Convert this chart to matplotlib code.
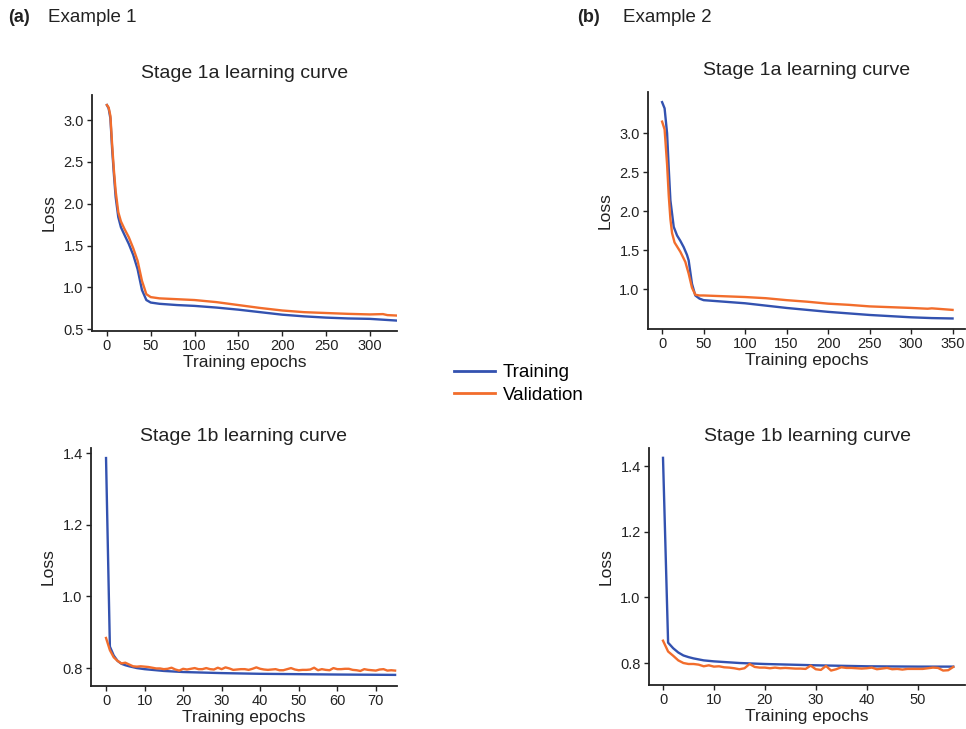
import matplotlib
matplotlib.use("Agg")
import matplotlib.pyplot as plt
from matplotlib.lines import Line2D

plt.rcParams['font.family'] = ['Liberation Sans', 'DejaVu Sans']

BLUE = '#3352b0'
ORANGE = '#f26d2c'

# (a) stage 1a
a1_train_ep = [0, 2, 4, 6, 8, 10, 13, 16, 20, 25, 30, 35, 40, 45, 50, 60, 80, 100, 125, 150, 175, 200, 225, 250, 275, 300, 330]
a1_train = [3.18, 3.14, 3.02, 2.65, 2.35, 2.08, 1.84, 1.72, 1.63, 1.52, 1.39, 1.22, 0.97, 0.85, 0.82, 0.805, 0.79, 0.78, 0.76, 0.735, 0.705, 0.675, 0.655, 0.64, 0.63, 0.625, 0.605]
a1_val_ep = [0, 2, 4, 6, 8, 10, 13, 16, 20, 25, 30, 35, 40, 45, 50, 60, 80, 100, 125, 150, 175, 200, 225, 250, 275, 300, 315, 320, 330]
a1_val = [3.18, 3.15, 3.05, 2.7, 2.4, 2.15, 1.9, 1.79, 1.7, 1.6, 1.47, 1.32, 1.08, 0.92, 0.885, 0.87, 0.86, 0.85, 0.825, 0.79, 0.755, 0.725, 0.705, 0.695, 0.685, 0.678, 0.682, 0.67, 0.665]

# (b) stage 1a
b1_train_ep = [0, 3, 6, 8, 10, 14, 18, 22, 26, 30, 32, 36, 40, 45, 50, 75, 100, 125, 150, 175, 200, 225, 250, 275, 300, 325, 350]
b1_train = [3.40, 3.32, 3.0, 2.55, 2.14, 1.80, 1.69, 1.62, 1.54, 1.44, 1.37, 1.07, 0.92, 0.88, 0.86, 0.84, 0.82, 0.79, 0.76, 0.735, 0.71, 0.69, 0.67, 0.655, 0.64, 0.63, 0.625]
b1_val_ep = [0, 3, 6, 8, 10, 12, 15, 22, 28, 32, 36, 40, 45, 50, 75, 100, 125, 150, 175, 200, 225, 250, 275, 300, 320, 325, 350]
b1_val = [3.15, 3.05, 2.6, 2.2, 1.9, 1.72, 1.60, 1.48, 1.35, 1.2, 1.02, 0.93, 0.92, 0.92, 0.91, 0.90, 0.885, 0.86, 0.84, 0.815, 0.80, 0.78, 0.77, 0.76, 0.75, 0.755, 0.735]

# (a) stage 1b
a2_train_ep = [0, 1, 2, 3, 4, 5, 6, 8, 10, 15, 20, 30, 40, 50, 60, 75]
a2_train = [1.386, 0.86, 0.835, 0.82, 0.812, 0.808, 0.805, 0.80, 0.797, 0.792, 0.789, 0.786, 0.784, 0.783, 0.782, 0.781]
a2_val = [0.884, 0.85, 0.83, 0.82, 0.813, 0.815, 0.81, 0.805, 0.804, 0.805, 0.804, 0.803, 0.801, 0.799, 0.799, 0.797,
          0.798, 0.801, 0.796, 0.793, 0.798, 0.796, 0.798, 0.800, 0.797, 0.797, 0.800, 0.797, 0.796, 0.801, 0.797,
          0.802, 0.799, 0.795, 0.796, 0.797, 0.797, 0.795, 0.798, 0.802, 0.798, 0.796, 0.795, 0.796, 0.797, 0.794,
          0.794, 0.797, 0.800, 0.796, 0.794, 0.795, 0.795, 0.796, 0.801, 0.794, 0.797, 0.795, 0.794, 0.800, 0.797,
          0.797, 0.798, 0.798, 0.795, 0.794, 0.792, 0.797, 0.795, 0.794, 0.793, 0.796, 0.797, 0.793, 0.794, 0.793]

# (b) stage 1b
b2_train_ep = [0, 1, 2, 3, 4, 5, 6, 7, 8, 10, 15, 20, 30, 40, 50, 57]
b2_train = [1.425, 0.862, 0.845, 0.832, 0.823, 0.818, 0.814, 0.811, 0.808, 0.805, 0.800, 0.797, 0.793, 0.790, 0.789, 0.789]
b2_val = [0.868, 0.835, 0.822, 0.808, 0.800, 0.797, 0.797, 0.795, 0.790, 0.793, 0.789, 0.790, 0.787, 0.786, 0.784,
          0.781, 0.784, 0.797, 0.788, 0.786, 0.786, 0.784, 0.786, 0.784, 0.785, 0.784, 0.783, 0.783, 0.782, 0.792,
          0.781, 0.779, 0.791, 0.777, 0.781, 0.787, 0.785, 0.785, 0.784, 0.783, 0.784, 0.786, 0.781, 0.783, 0.785,
          0.781, 0.782, 0.780, 0.782, 0.782, 0.782, 0.782, 0.784, 0.786, 0.785, 0.777, 0.778, 0.788]

W, H = 966, 729
fig = plt.figure(figsize=(W / 100, H / 100), dpi=100)


def box(x0, y0, x1, y1):
    return [x0 / W, 1 - y1 / H, (x1 - x0) / W, (y1 - y0) / H]


def style(ax, title, pad):
    for s in ['top', 'right']:
        ax.spines[s].set_visible(False)
    for s in ['left', 'bottom']:
        ax.spines[s].set_linewidth(1.3)
        ax.spines[s].set_color('#222222')
    ax.tick_params(labelsize=10.5, length=3.5, width=1.0, colors='#222222', pad=2.5)
    ax.set_title(title, fontsize=14, pad=pad, color='#222222')
    ax.set_xlabel('Training epochs', fontsize=12.5, labelpad=1.5, color='#222222')
    ax.set_ylabel('Loss', fontsize=12.5, labelpad=5, color='#222222')


ax1 = fig.add_axes(box(92, 95, 397, 331))
ax1.plot(a1_train_ep, a1_train, color=BLUE, lw=1.7)
ax1.plot(a1_val_ep, a1_val, color=ORANGE, lw=1.7)
ax1.set_xlim(-17, 331)
ax1.set_ylim(0.48, 3.3)
ax1.set_xticks(range(0, 301, 50))
ax1.set_yticks([0.5, 1.0, 1.5, 2.0, 2.5, 3.0])
style(ax1, 'Stage 1a learning curve', 12)

ax2 = fig.add_axes(box(648, 92, 965, 329))
ax2.plot(b1_train_ep, b1_train, color=BLUE, lw=1.7)
ax2.plot(b1_val_ep, b1_val, color=ORANGE, lw=1.7)
ax2.set_xlim(-17, 365)
ax2.set_ylim(0.49, 3.53)
ax2.set_xticks(range(0, 351, 50))
ax2.set_yticks([1.0, 1.5, 2.0, 2.5, 3.0])
style(ax2, 'Stage 1a learning curve', 12)

ax3 = fig.add_axes(box(91, 448, 397, 686))
ax3.plot(a2_train_ep, a2_train, color=BLUE, lw=1.7)
ax3.plot(range(len(a2_val)), a2_val, color=ORANGE, lw=1.7)
ax3.set_xlim(-3.9, 75.5)
ax3.set_ylim(0.75, 1.414)
ax3.set_xticks(range(0, 71, 10))
ax3.set_yticks([0.8, 1.0, 1.2, 1.4])
style(ax3, 'Stage 1b learning curve', 5)

ax4 = fig.add_axes(box(649, 448, 965, 685))
ax4.plot(b2_train_ep, b2_train, color=BLUE, lw=1.7)
ax4.plot(range(len(b2_val)), b2_val, color=ORANGE, lw=1.7)
ax4.set_xlim(-2.75, 59.3)
ax4.set_ylim(0.733, 1.455)
ax4.set_xticks(range(0, 51, 10))
ax4.set_yticks([0.8, 1.0, 1.2, 1.4])
style(ax4, 'Stage 1b learning curve', 5)

fig.text(8 / W, 1 - 18 / H, '(a)', fontsize=13, fontweight='bold', va='center', color='#222222')
fig.text(48 / W, 1 - 18 / H, 'Example 1', fontsize=13.5, va='center', color='#222222')
fig.text(577 / W, 1 - 18 / H, '(b)', fontsize=13, fontweight='bold', va='center', color='#222222')
fig.text(623 / W, 1 - 18 / H, 'Example 2', fontsize=13.5, va='center', color='#222222')

handles = [Line2D([], [], color=BLUE, lw=2), Line2D([], [], color=ORANGE, lw=2)]
fig.legend(handles, ['Training', 'Validation'], loc='center', bbox_to_anchor=(519 / W, 1 - 384 / H),
           frameon=False, fontsize=13.5, handlelength=2.2, handletextpad=0.4, labelspacing=0.3)

fig.savefig('out.png', dpi=100)
